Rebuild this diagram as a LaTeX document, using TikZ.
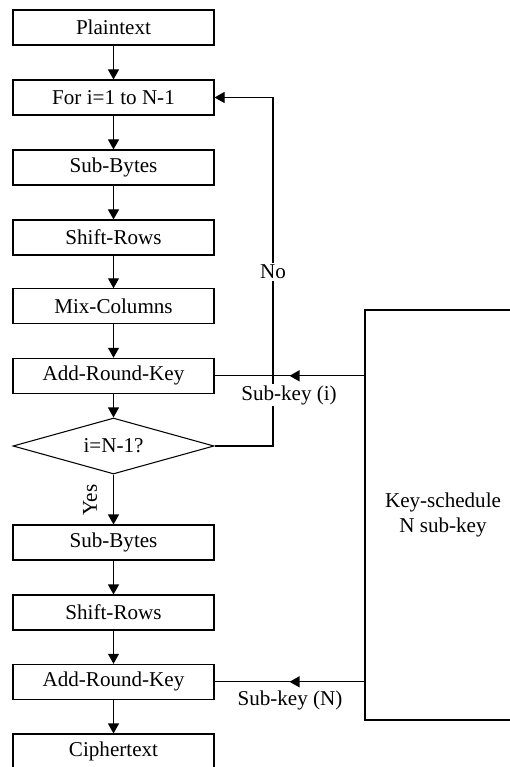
\documentclass[tikz,border=0pt]{standalone}
\usepackage{fontspec}
\setmainfont{Liberation Serif}
\usetikzlibrary{shapes.geometric,arrows.meta,decorations.markings}

\begin{document}
\begin{tikzpicture}[
        font=\fontsize{12}{14}\selectfont,
        line width=0.6pt,
        >={Triangle[length=0.2cm,width=0.22cm]},
        block/.style={draw,minimum width=4.02cm,minimum height=0.7cm,inner sep=0pt},
        test/.style={draw,diamond,aspect=3.59,minimum width=4.02cm,minimum height=1.12cm,inner sep=0pt},
        lbl/.style={fill=white,inner sep=1pt},
        midarrow/.style={postaction={decorate},decoration={markings,mark=at position 0.5 with {\arrow{>}}}}
    ]
            \useasboundingbox (0,0) rectangle (10.18,-15.34);

            \coordinate (turn) at (5.46,-8.92);
            \coordinate (back) at (5.46,-1.95);

            \node[block] (plain) at (2.27,-0.55) {Plaintext};
            \node[block] (loop) at (2.27,-1.95) {For i=1 to N-1};
            \node[block] (sub1) at (2.27,-3.35) {Sub-Bytes};
            \node[block] (shift1) at (2.27,-4.75) {Shift-Rows};
            \node[block] (mix) at (2.27,-6.126) {Mix-Columns};
            \node[block] (add1) at (2.27,-7.516) {Add-Round-Key};
            \node[test] (check) at (2.27,-8.92) {i=N-1?};
            \node[block] (sub2) at (2.27,-10.85) {Sub-Bytes};
            \node[block] (shift2) at (2.27,-12.25) {Shift-Rows};
            \node[block] (add2) at (2.27,-13.636) {Add-Round-Key};
            \node[block] (cipher) at (2.27,-15.03) {Ciphertext};
            \node[draw,minimum width=3.12cm,minimum height=8.2cm,align=center] (keys) at (8.86,-10.3) {Key-schedule\\N sub-key};

            \draw[->] (plain) -- (loop);
            \draw[->] (loop) -- (sub1);
            \draw[->] (sub1) -- (shift1);
            \draw[->] (shift1) -- (mix);
            \draw[->] (mix) -- (add1);
            \draw[->] (add1) -- (check);
            \draw[->] (check) -- (sub2);
            \draw[->] (sub2) -- (shift2);
            \draw[->] (shift2) -- (add2);
            \draw[->] (add2) -- (cipher);
            \draw[->] (check.east) -- (turn) -- (back) -- (loop.east);
            \draw[midarrow] (keys.west |- add1) -- (add1);
            \draw[midarrow] (keys.west |- add2) -- (add2);

            \node[lbl] (no) at (5.46,-5.44) {No};
            \node[lbl] (keyi) at (5.78,-7.9) {Sub-key (i)};
            \node[lbl] (keyn) at (5.8,-14.0) {Sub-key (N)};
            \node[rotate=90] (yes) at (1.8,-10.0) {Yes};

        \end{tikzpicture}
\end{document}
